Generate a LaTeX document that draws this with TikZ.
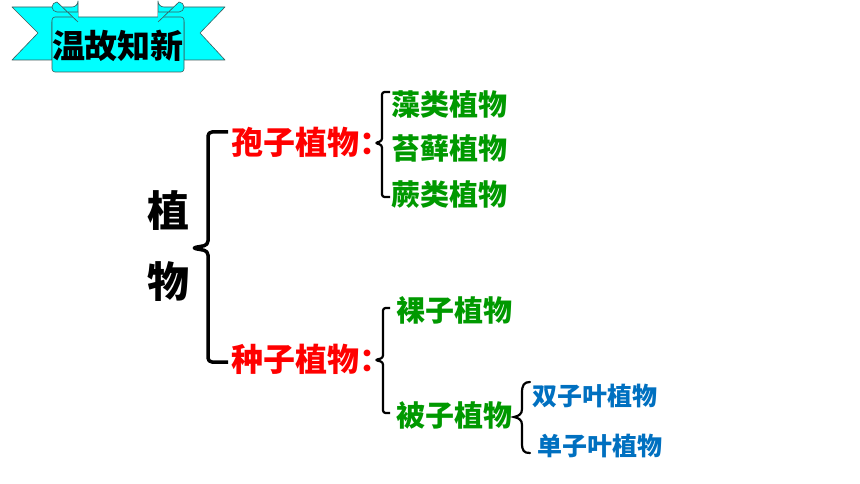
\documentclass[tikz,border=0pt]{standalone}
\usepackage{fontspec}
\setmainfont{Noto Sans CJK SC}
\definecolor{redT}{RGB}{255,0,0}
\definecolor{greenT}{RGB}{0,153,0}
\definecolor{blueT}{RGB}{0,112,192}
\definecolor{ribbon}{RGB}{0,255,255}
\definecolor{ribbonline}{RGB}{60,90,90}
\begin{document}
\begin{tikzpicture}[x=1pt,y=-1pt,
  lbl/.style={anchor=west,inner sep=0pt,font=\bfseries},
  redlbl/.style={lbl,text=redT,font=\fontsize{32}{32}\selectfont\bfseries},
  greenlbl/.style={lbl,text=greenT,font=\fontsize{29}{29}\selectfont\bfseries},
  bluelbl/.style={lbl,text=blueT,font=\fontsize{25}{25}\selectfont\bfseries},
  bigbrace/.style={line width=3.5pt,rounded corners=4pt,line join=round},
  smallbrace/.style={line width=2.2pt,rounded corners=2.5pt,line join=round},
  ribbonpart/.style={fill=ribbon,draw=ribbonline,line width=0.6pt,line join=round}]
\useasboundingbox (0,0) rectangle (860,484);
\fill[white] (0,0) rectangle (860,484);
% banner
\draw[ribbonpart] (12,7) -- (72,7) arc (90:0:6) -- (78,22) -- (52,22) -- (52,60) -- (12,60) -- (38,33) -- cycle;
\draw[ribbonpart] (225,7) -- (164,7) arc (90:180:6) -- (158,22) -- (184,22) -- (184,60) -- (225,60) -- (200,33) -- cycle;
\draw[ribbonpart,rounded corners=3pt] (52,17) -- (184,17) -- (184,72) -- (52,72) -- cycle;
\draw[ribbonpart] (78,12) -- (57,12) arc (90:270:5) -- (78,22);
\draw[ribbonpart] (158,12) -- (179,12) arc (90:-90:5) -- (158,22);
\node[inner sep=0pt,font=\fontsize{33}{33}\selectfont\bfseries] (title) at (118,46) {温故知新};
% root
\node[inner sep=0pt,font=\fontsize{42}{42}\selectfont\bfseries] (zhi) at (168,211) {植};
\node[inner sep=0pt,font=\fontsize{42}{42}\selectfont\bfseries] (wu) at (168,282) {物};
\coordinate (mtip) at (192,248);
\coordinate (mtop) at (228,132);
\coordinate (mbot) at (228,362);
\draw[bigbrace] (mtop) -- (208,132) -- (208,245) -- (mtip) -- (208,251) -- (208,362) -- (mbot);
% spore plants
\node[redlbl] (spore) at (231,142) {孢子植物：};
\node[greenlbl] (alga) at (391,104) {藻类植物};
\node[greenlbl] (moss) at (391,148) {苔藓植物};
\node[greenlbl] (fern) at (391,195) {蕨类植物};
\coordinate (a1) at (390,92);
\coordinate (a2) at (390,197);
\draw[smallbrace] (a1) -- (382,92) -- (382,141) -- (375,143) -- (382,145) -- (382,197) -- (a2);
% seed plants
\node[redlbl] (seed) at (231,359) {种子植物：};
\node[greenlbl] (gymno) at (396,310) {裸子植物};
\node[greenlbl] (angio) at (396,415) {被子植物};
\coordinate (b1) at (390,308);
\coordinate (b2) at (390,413);
\draw[smallbrace] (b1) -- (383,308) -- (383,358) -- (375,360) -- (383,362) -- (383,413) -- (b2);
% angiosperms
\node[bluelbl] (dicot) at (532,396) {双子叶植物};
\node[bluelbl] (monocot) at (537,446) {单子叶植物};
\coordinate (c1) at (530,382);
\coordinate (c2) at (530,453);
\draw[line width=2.2pt,line cap=round] (c1) .. controls (524,382) and (522,385) .. (522,393) -- (522,409) .. controls (522,414) and (519,416) .. (514,417) .. controls (519,418) and (522,420) .. (522,425) -- (522,443) .. controls (522,451) and (524,453) .. (c2);
\end{tikzpicture}
\end{document}
